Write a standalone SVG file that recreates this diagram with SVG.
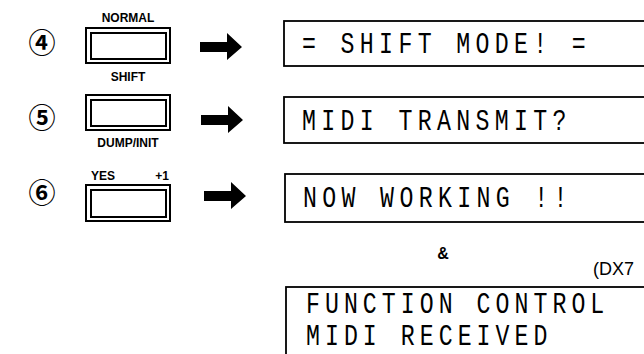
<svg xmlns="http://www.w3.org/2000/svg" width="644" height="354" viewBox="0 0 644 354">
<style>
.num{font-family:"Noto Sans CJK JP","DejaVu Sans",sans-serif;font-size:27px;font-weight:bold;fill:#000;text-anchor:middle}
.lbl{font-family:"Liberation Sans",Arial,sans-serif;font-size:12px;font-weight:bold;fill:#000}
.btn{fill:#fff;stroke:#000;stroke-width:2}
.lcd{fill:#fff;stroke:#000;stroke-width:1.8}
.mono{font-family:"Liberation Mono","Courier New",monospace;font-size:29px;letter-spacing:6.7px;fill:#000}
.mono2{font-family:"Liberation Mono","Courier New",monospace;font-size:29px;letter-spacing:6.3px;fill:#000}
.arr{fill:#000}
</style>
<rect width="644" height="354" fill="#fff"/>
<g id="step4">
<text class="num" x="42" y="53">④</text>
<text class="lbl" x="128" y="22" text-anchor="middle">NORMAL</text>
<rect class="btn" x="86" y="28" width="84" height="35"/>
<rect class="btn" x="91" y="33" width="75" height="26"/>
<text class="lbl" x="128" y="81" text-anchor="middle">SHIFT</text>
</g>
<g id="step5">
<text class="num" x="42" y="128">⑤</text>
<rect class="btn" x="86" y="95" width="84" height="35"/>
<rect class="btn" x="91" y="100" width="75" height="26"/>
<text class="lbl" x="128" y="147" text-anchor="middle">DUMP/INIT</text>
</g>
<g id="step6">
<text class="num" x="42" y="203">⑥</text>
<text class="lbl" x="91" y="180">YES</text>
<text class="lbl" x="169" y="180" text-anchor="end">+1</text>
<rect class="btn" x="86" y="185" width="84" height="36"/>
<rect class="btn" x="91" y="190" width="75" height="27"/>
</g>
<g id="connectors">
<polygon class="arr" points="200,42 227,42 227,33 242,47 227,60 227,52 200,52"/>
<polygon class="arr" points="201,115 228,115 228,106 243,120 228,133 228,125 201,125"/>
<polygon class="arr" points="204,191 231,191 231,182 246,196 231,209 231,201 204,201"/>
</g>
<g id="lcd1">
<rect class="lcd" x="284" y="21" width="400" height="45"/>
<text class="mono" transform="translate(302,53) scale(0.8,1)" xml:space="preserve">= SHIFT MODE! =</text>
</g>
<g id="lcd2">
<rect class="lcd" x="284" y="97" width="400" height="46"/>
<text class="mono" transform="translate(302,130) scale(0.8,1)">MIDI TRANSMIT?</text>
</g>
<g id="lcd3">
<rect class="lcd" x="285" y="174" width="400" height="48"/>
<text class="mono" transform="translate(303,207) scale(0.8,1)" xml:space="preserve">NOW WORKING !!</text>
</g>
<g id="amp">
<text x="443" y="259" text-anchor="middle" font-family="Liberation Sans,Arial,sans-serif" font-size="16" font-weight="bold">&amp;</text>
<text x="593" y="275" font-family="Liberation Sans,Arial,sans-serif" font-size="18">(DX7</text>
</g>
<g id="lcd4">
<rect class="lcd" x="286" y="287" width="400" height="100"/>
<text class="mono2" transform="translate(306,313) scale(0.8,1)">FUNCTION CONTROL</text>
<text class="mono2" transform="translate(306,345) scale(0.8,1)">MIDI RECEIVED</text>
</g>
</svg>
